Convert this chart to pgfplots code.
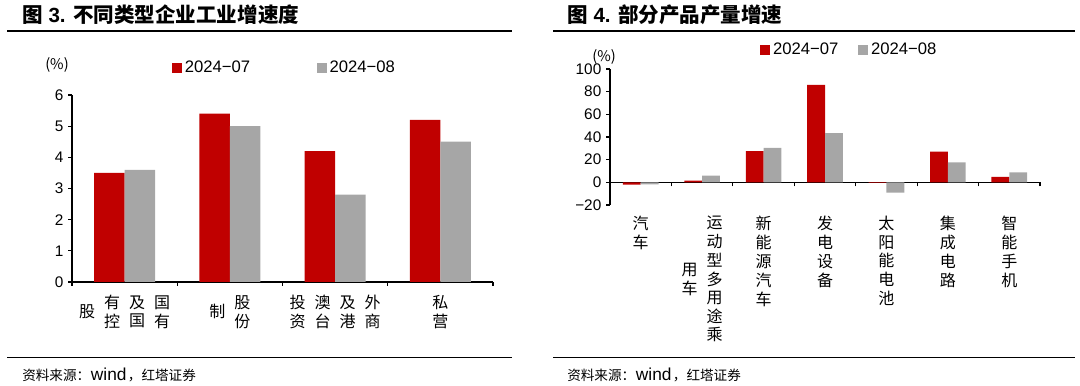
\documentclass[border=0pt]{standalone}
\usepackage{pgfplots}
\pgfplotsset{compat=1.18}
\usepackage{fontspec}
\setmainfont{Liberation Sans}
\newfontfamily\cjk{Noto Sans CJK SC}
\definecolor{cred}{HTML}{C00000}
\definecolor{cgray}{HTML}{A6A6A6}
\newcommand\vc[1]{\begin{tabular}{@{}c@{}}#1\end{tabular}}
\newcommand\cg{\hspace{6.75pt}}
\pgfplotsset{
  common/.style={
    scale only axis,
    axis line style={line width=0.8pt,-},
    every tick/.style={line width=0.8pt,black},
    major tick length=3pt,
    tick align=outside,
    yticklabel style={font=\fontsize{11.5}{13}\selectfont},
    xticklabel style={anchor=north,font=\cjk\fontsize{12}{13.5}\selectfont},
    xticklabels={},
    legend style={draw=none,fill=none,inner sep=0pt,font=\fontsize{12.5}{15}\selectfont},
  },
  bar07/.style={ybar,bar width=0.29,bar shift=-0.145,fill=cred,draw=none,
    legend image code/.code={\fill[cred] (0pt,-3.75pt) rectangle (7.5pt,3.75pt);}},
  bar08/.style={ybar,bar width=0.29,bar shift=0.145,fill=cgray,draw=none,
    legend image code/.code={\fill[cgray] (0pt,-3.75pt) rectangle (7.5pt,3.75pt);}},
}
\newcommand\source{{\cjk\fontsize{10.2}{11}\selectfont 资料来源：}\hspace{0.5pt}{\fontsize{13}{13}\selectfont wind}\hspace{1pt}{\cjk\fontsize{10.2}{11}\selectfont ，红塔证券}}
\begin{document}
\begin{tikzpicture}
\path[use as bounding box] (0,0) rectangle (810pt,288.75pt);
% ---------- left panel ----------
\node[anchor=base west,inner sep=0pt,font=\fontsize{15.4}{17}\selectfont\bfseries] at (16.5pt,271.5pt) {{\cjk 图} 3. {\cjk 不同类型企业工业增速度}};
\draw[line width=1.2pt] (5.25pt,265.5pt) -- (384pt,265.5pt);
\draw[line width=1pt] (5.25pt,20.5pt) -- (384pt,20.5pt);
\node[anchor=base west,inner sep=0pt] at (16.5pt,3.75pt) {\source};
\node[inner sep=0pt,font=\cjk\fontsize{11}{13}\selectfont] at (42.75pt,240pt) {(\%)};
\begin{axis}[common,
  at={(54pt,77.25pt)},anchor=south west,
  width=315.75pt,height=140.25pt,
  xmin=-0.5,xmax=3.5,ymin=0,ymax=6,
  axis x line*=bottom, axis y line*=left,
  ytick={0,1,2,3,4,5,6},yticklabels={0,1,2,3,4,5,6},
  xtick={-0.5,0.5,1.5,2.5,3.5},
  extra x ticks={0,1,2,3},
  extra x tick style={major tick length=0pt,xticklabel style={yshift=-6.5pt}},
  extra x tick labels={
    {\vc{股}\cg\vc{有\\控}\cg\vc{及\\国}\cg\vc{国\\有}},
    {\vc{制}\cg\vc{股\\份}},
    {\vc{投\\资}\cg\vc{澳\\台}\cg\vc{及\\港}\cg\vc{外\\商}},
    {\vc{私\\营}}},
  legend columns=2,
  legend style={at={(0.2375,1.144)},anchor=west,
    /tikz/every even column/.append style={column sep=48pt}},
]
\addplot[bar07] coordinates {(0,3.5) (1,5.4) (2,4.2) (3,5.2)};
\addplot[bar08] coordinates {(0,3.6) (1,5.0) (2,2.8) (3,4.5)};
\legend{2024−07,2024−08}
\end{axis}
% ---------- right panel ----------
\node[anchor=base west,inner sep=0pt,font=\fontsize{15.4}{17}\selectfont\bfseries] at (425.25pt,271.5pt) {{\cjk 图} 4. {\cjk 部分产品产量增速}};
\draw[line width=1.2pt] (414.75pt,265.5pt) -- (806.25pt,265.5pt);
\draw[line width=1pt] (414.75pt,20.5pt) -- (806.25pt,20.5pt);
\node[anchor=base west,inner sep=0pt] at (425.25pt,3.75pt) {\source};
\node[inner sep=0pt,font=\cjk\fontsize{11}{13}\selectfont] at (453pt,246pt) {(\%)};
\begin{axis}[common,
  at={(457.5pt,135pt)},anchor=south west,
  width=322.5pt,height=102pt,
  xmin=-0.5,xmax=6.5,ymin=-20,ymax=100,
  axis x line*=bottom, axis x line shift=-17pt, axis y line*=left,
  ytick={-20,0,20,40,60,80,100},yticklabels={−20,0,20,40,60,80,100},
  xtick={-0.5,0.5,1.5,2.5,3.5,4.5,5.5,6.5},
  extra x ticks={0,1,2,3,4,5,6},
  extra x tick style={major tick length=0pt,xticklabel style={yshift=-22pt}},
  extra x tick labels={
    {\vc{汽\\车}},
    {\vc{用\\车}\cg\vc{运\\动\\型\\多\\用\\途\\乘}},
    {\vc{新\\能\\源\\汽\\车}},
    {\vc{发\\电\\设\\备}},
    {\vc{太\\阳\\能\\电\\池}},
    {\vc{集\\成\\电\\路}},
    {\vc{智\\能\\手\\机}}},
  legend columns=2,
  legend style={at={(0.349,1.14)},anchor=west,
    /tikz/every even column/.append style={column sep=13pt}},
]
\addplot[bar07] coordinates {(0,-2) (1,1.5) (2,27.5) (3,86) (4,-0.5) (5,27) (6,4.8)};
\addplot[bar08] coordinates {(0,-1.8) (1,6) (2,30.5) (3,43.5) (4,-9) (5,17.5) (6,8.8)};
\legend{2024−07,2024−08}
\end{axis}
\end{tikzpicture}
\end{document}
